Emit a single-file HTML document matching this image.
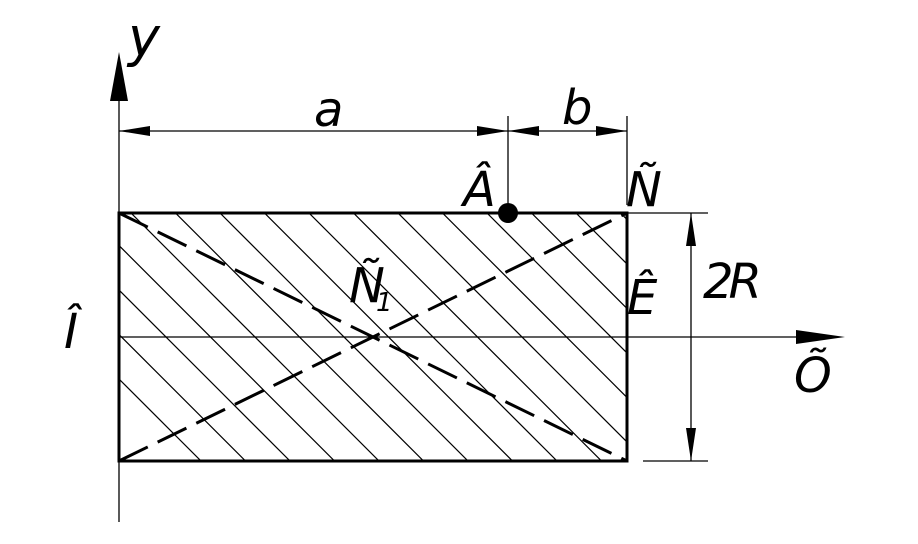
<!DOCTYPE html>
<html><head><style>
html,body{margin:0;padding:0;background:#fff;width:918px;height:544px;overflow:hidden;}
svg{display:block;}
text{font-family:"DejaVu Sans","Liberation Sans",sans-serif;font-style:italic;font-size:48px;fill:#000;}
</style></head><body>
<svg width="918" height="544" viewBox="0 0 918 544" xmlns="http://www.w3.org/2000/svg">
<defs><clipPath id="c"><rect x="119" y="213" width="508" height="248"/></clipPath></defs>
<g clip-path="url(#c)" stroke="#000" stroke-width="1.2">
<line x1="-260" y1="0" x2="400" y2="660"/>
<line x1="-215.5" y1="0" x2="444.5" y2="660"/>
<line x1="-171" y1="0" x2="489" y2="660"/>
<line x1="-126.5" y1="0" x2="533.5" y2="660"/>
<line x1="-82" y1="0" x2="578" y2="660"/>
<line x1="-37.5" y1="0" x2="622.5" y2="660"/>
<line x1="7" y1="0" x2="667" y2="660"/>
<line x1="51.5" y1="0" x2="711.5" y2="660"/>
<line x1="96" y1="0" x2="756" y2="660"/>
<line x1="140.5" y1="0" x2="800.5" y2="660"/>
<line x1="185" y1="0" x2="845" y2="660"/>
<line x1="229.5" y1="0" x2="889.5" y2="660"/>
<line x1="274" y1="0" x2="934" y2="660"/>
<line x1="318.5" y1="0" x2="978.5" y2="660"/>
<line x1="363" y1="0" x2="1023" y2="660"/>
<line x1="407.5" y1="0" x2="1067.5" y2="660"/>
<line x1="452" y1="0" x2="1112" y2="660"/>
<line x1="496.5" y1="0" x2="1156.5" y2="660"/>
<line x1="541" y1="0" x2="1201" y2="660"/>
</g>
<g stroke="#000" stroke-width="3" stroke-dasharray="32,11">
<line x1="119" y1="213" x2="627" y2="461"/>
<line x1="119" y1="461" x2="627" y2="213"/>
</g>
<rect x="119" y="213" width="508" height="248" fill="none" stroke="#000" stroke-width="3"/>
<g stroke="#000" stroke-width="1.3" fill="none">
<line x1="119" y1="90" x2="119" y2="522"/>
<line x1="119" y1="337" x2="830" y2="337"/>
<line x1="508" y1="116" x2="508" y2="203"/>
<line x1="627" y1="116" x2="627" y2="205"/>
<line x1="119" y1="131" x2="627" y2="131"/>
<line x1="627" y1="213" x2="708" y2="213"/>
<line x1="643" y1="461" x2="708" y2="461"/>
<line x1="691" y1="213" x2="691" y2="461"/>
</g>
<g fill="#000">
<polygon points="119,52 110,101 128,101"/>
<polygon points="845,337 796,330 796,344"/>
<polygon points="119,131 150,126 150,136"/>
<polygon points="508,131 477,126 477,136"/>
<polygon points="508,131 539,126 539,136"/>
<polygon points="627,131 596,126 596,136"/>
<polygon points="691,213 686,246 696,246"/>
<polygon points="691,461 686,428 696,428"/>
<circle cx="508" cy="213" r="10"/>
</g>
<text x="128" y="56" style="font-size:54px">y</text>
<text x="314" y="126">a</text>
<text x="562" y="124">b</text>
<text x="463" y="206">Â</text>
<text x="626" y="206">Ñ</text>
<text x="349" y="302">Ñ</text>
<text x="376" y="311" style="font-size:26px">1</text>
<text x="627" y="314">Ê</text>
<text x="703" y="298" style="letter-spacing:-5px">2R</text>
<text x="64" y="348">Î</text>
<text x="794" y="392">Õ</text>
</svg>
</body></html>
